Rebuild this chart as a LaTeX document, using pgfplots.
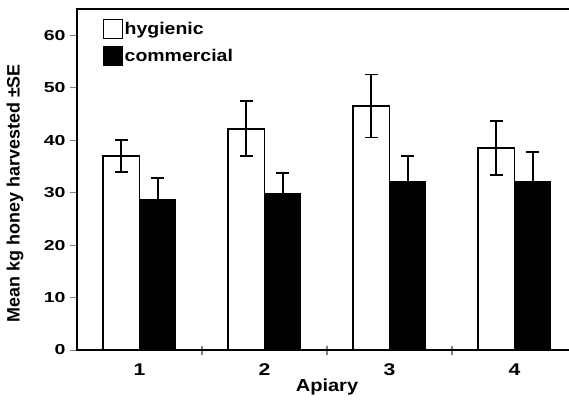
\documentclass[border=0pt]{standalone}
\usepackage{pgfplots}
\pgfplotsset{compat=1.18}
\usepackage{fontspec}
\setmainfont{Liberation Sans}
\newfontfamily\tickfont[FakeStretch=1.35]{Liberation Sans}
\newfontfamily\xtickfont[FakeStretch=1.25]{Liberation Sans}
\newfontfamily\labfont[FakeStretch=1.15]{Liberation Sans}
\begin{document}
\begin{tikzpicture}
\begin{axis}[
  at={(77bp,54bp)}, anchor=south west,
  scale only axis, width=500bp, height=341bp,
  xmin=0.5, xmax=4.5, ymin=0, ymax=65,
  ybar, bar width=0.29,
  axis line style={line width=1.6pt},
  xtick={1,2,3,4},
  minor xtick={1.5,2.5,3.5},
  major x tick style={draw=none},
  minor x tick style={line width=1.2pt, yshift=4bp},
  minor tick length=9bp,
  ytick={0,10,20,30,40,50,60},
  ytick pos=left, xtick pos=bottom,
  tick align=outside,
  major tick length=7bp,
  ytick style={line width=1pt},
  /pgf/number format/assume math mode=true,
  yticklabel style={font=\tickfont\bfseries\fontsize{14.5}{15}\selectfont, xshift=-1bp},
  xticklabel style={font=\xtickfont\bfseries\fontsize{17}{17}\selectfont, yshift=-3bp},
  xlabel={Apiary},
  ylabel={Mean kg honey harvested ±SE},
  xlabel style={font=\labfont\bfseries\fontsize{17.5}{17}\selectfont, yshift=4bp},
  ylabel style={font=\bfseries\fontsize{18}{18}\selectfont, at={(axis description cs:-0.1,0.46)}},
  legend style={at={(axis description cs:0.052,0.97)}, anchor=north west,
    draw=none, fill=none, inner sep=0pt, row sep=7bp,
    nodes={inner xsep=1.5bp},
    font=\labfont\bfseries\fontsize{17}{17}\selectfont},
  legend cell align=left,
  legend image code/.code={\draw[#1, line width=1pt] (0bp,-9.5bp) rectangle (19bp,9.5bp);},
  error bars/error bar style={line width=1.8pt, black},
  error bars/error mark options={rotate=90, mark size=6.5bp, line width=1.8pt, black},
]
\addplot[bar shift=-0.145, fill=white, draw=black, line width=1.8pt,
  error bars/.cd, y dir=both, y explicit]
coordinates {
  (1,37.0) +- (0,3.0)
  (2,42.2) +- (0,5.2)
  (3,46.5) +- (0,6.0)
  (4,38.5) +- (0,5.2)
};
\addlegendentry{hygienic}
\addplot[bar shift=0.145, fill=black, draw=black, line width=1pt,
  error bars/.cd, y dir=both, y explicit]
coordinates {
  (1,28.6) +- (0,4.2)
  (2,29.9) +- (0,3.8)
  (3,32.2) +- (0,4.8)
  (4,32.2) +- (0,5.5)
};
\addlegendentry{commercial}
\end{axis}
\pgfresetboundingbox
\useasboundingbox (0,0) rectangle (569bp,404bp);
\end{tikzpicture}
\end{document}
